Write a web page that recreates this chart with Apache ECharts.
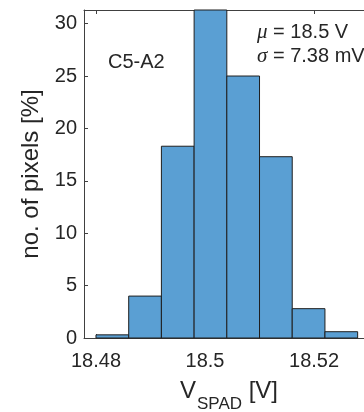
<!DOCTYPE html>
<html>
<head>
<meta charset="utf-8">
<script src="https://cdn.jsdelivr.net/npm/echarts@6/dist/echarts.min.js"></script>
<style>
html,body{margin:0;padding:0;background:#fff;}
#chart{width:364px;height:412px;}
</style>
</head>
<body>
<div id="chart"></div>
<script>
// Histogram bins (V) and percentages
const binEdges = [18.480, 18.486, 18.492, 18.498, 18.504, 18.510, 18.516, 18.522, 18.528];
const percents = [0.3, 4.0, 18.3, 31.7, 25.0, 17.3, 2.8, 0.6];
const xTicks = [18.48, 18.50, 18.52];
const yTicks = [0, 5, 10, 15, 20, 25, 30];

const data = percents.map((p, i) => [binEdges[i], binEdges[i + 1], p]);

const FONT = '"Liberation Sans", Arial, Helvetica, sans-serif';
const SERIF = '"Liberation Serif", "Times New Roman", serif';
const TXT = '#262626';
const AX = '#404040';

const chart = echarts.init(document.getElementById('chart'), null, {renderer: 'canvas'});

const xBase = {
  type: 'value',
  min: 18.4778,
  max: 18.5310,
  splitLine: {show: false},
  axisLine: {show: true, lineStyle: {color: AX, width: 1}},
  axisTick: {show: true, inside: true, length: 4, customValues: xTicks, lineStyle: {color: AX}},
};

chart.setOption({
  animation: false,
  grid: {left: 84, top: 10, width: 290, height: 328, containLabel: false, outerBoundsMode: 'none'},
  xAxis: [
    Object.assign({}, xBase, {
      position: 'bottom',
      axisLabel: {
        show: true, customValues: xTicks, margin: 13,
        fontFamily: FONT, fontSize: 20, color: TXT,
        formatter: v => String(+(+v).toFixed(2))
      },
      name: '{v|V}{s|SPAD}{v| [V]}',
      nameLocation: 'middle',
      nameGap: 41,
      nameTextStyle: {
        rich: {
          v: {fontFamily: FONT, fontSize: 24, color: TXT},
          s: {fontFamily: FONT, fontSize: 17, color: TXT, verticalAlign: 'bottom', padding: [0, 0, -10, 1]}
        }
      }
    }),
    Object.assign({}, xBase, {
      position: 'top',
      axisLabel: {show: false}
    })
  ],
  yAxis: {
    type: 'value',
    min: 0,
    max: 31.3,
    interval: 5,
    splitLine: {show: false},
    axisLine: {show: true, lineStyle: {color: AX, width: 1}},
    axisTick: {show: true, inside: true, length: 4, lineStyle: {color: AX}},
    axisLabel: {
      fontFamily: FONT, fontSize: 20, color: TXT, margin: 7,
      formatter: v => (yTicks.indexOf(v) >= 0 ? String(v) : '')
    },
    name: 'no. of pixels [%]',
    nameLocation: 'middle',
    nameGap: 39,
    nameRotate: 90,
    nameTextStyle: {fontFamily: FONT, fontSize: 24, color: TXT}
  },
  series: [{
    type: 'custom',
    xAxisIndex: 0,
    yAxisIndex: 0,
    data: data,
    encode: {x: [0, 1], y: 2},
    renderItem: function (params, api) {
      const x0 = api.value(0), x1 = api.value(1), y = api.value(2);
      const p0 = api.coord([x0, 0]);
      const p1 = api.coord([x1, y]);
      const rect = {x: p0[0], y: p1[1], width: p1[0] - p0[0], height: p0[1] - p1[1]};
      const cs = params.coordSys;
      const shape = echarts.graphic.clipRectByRect(rect, {x: cs.x, y: cs.y, width: cs.width, height: cs.height});
      if (!shape) return;
      return {
        type: 'rect',
        shape: shape,
        style: {fill: '#5a9fd3', stroke: '#1f1f1f', lineWidth: 1}
      };
    }
  }],
  graphic: [
    {type: 'text', left: 108, top: 52, style: {text: 'C5-A2', fontFamily: FONT, fontSize: 20, fill: TXT}},
    {type: 'text', left: 257, top: 22, style: {
      text: '{i|μ} = 18.5 V', fontFamily: FONT, fontSize: 20, fill: TXT,
      rich: {i: {fontFamily: SERIF, fontStyle: 'italic', fontSize: 21, fill: TXT}}
    }},
    {type: 'text', left: 257, top: 46, style: {
      text: '{i|σ} = 7.38 mV', fontFamily: FONT, fontSize: 20, fill: TXT,
      rich: {i: {fontFamily: SERIF, fontStyle: 'italic', fontSize: 21, fill: TXT}}
    }}
  ]
});
</script>
</body>
</html>
